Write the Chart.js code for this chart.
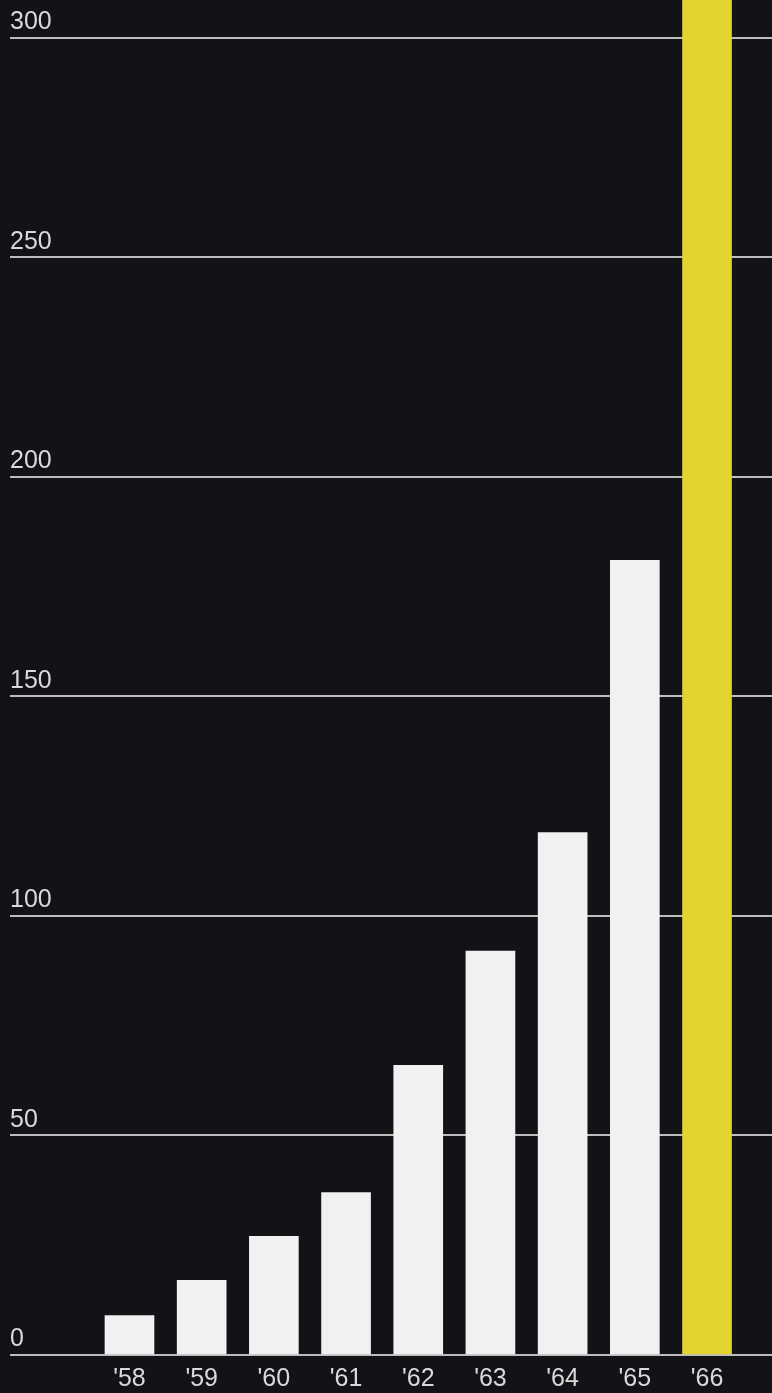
<!DOCTYPE html>
<html lang="en">
<head>
    <meta charset="UTF-8">
    <title>Growth 1958-1966</title>
    <style>
        html, body {
            margin: 0;
            padding: 0;
            background-color: #121317;
        }
        #chart-wrap {
            width: 772px;
            height: 1393px;
        }
    </style>
    <script src="https://cdn.jsdelivr.net/npm/chart.js"></script>
</head>
<body>
    <div id="chart-wrap">
        <canvas id="growth-chart"></canvas>
    </div>
    <script>
        const years = ["'58", "'59", "'60", "'61", "'62", "'63", "'64", "'65", "'66"];
        const values = [9, 17, 27, 37, 66, 92, 119, 181, 320];
        const yTicks = [0, 50, 100, 150, 200, 250, 300];

        const barColors = years.map((y, i) => i === years.length - 1 ? '#e4d42f' : '#f1f1f1');

        const drawChart = () => {
            const ctx = document.getElementById('growth-chart').getContext('2d');
            new Chart(ctx, {
                type: 'bar',
                data: {
                    datasets: [{
                        data: values.map((v, i) => ({ x: i, y: v })),
                        backgroundColor: barColors,
                        borderWidth: 0,
                        barThickness: 49
                    }]
                },
                options: {
                    responsive: true,
                    maintainAspectRatio: false,
                    animation: false,
                    // negative bottom padding lets the year labels sit lower under the baseline
                    layout: { padding: { left: 10, right: 0, top: 0, bottom: -10 } },
                    plugins: {
                        legend: { display: false },
                        tooltip: { enabled: false }
                    },
                    scales: {
                        x: {
                            type: 'linear',
                            offset: false,
                            min: -1.655,
                            max: 8.9,
                            afterBuildTicks: axis => {
                                axis.ticks = years.map((y, i) => ({ value: i }));
                            },
                            grid: { display: false, drawTicks: false },
                            border: { display: false },
                            ticks: {
                                padding: 15,
                                color: '#d9d9d9',
                                font: { family: 'Liberation Sans, Arial, sans-serif', size: 25, lineHeight: 0.72 },
                                maxRotation: 0,
                                autoSkip: false,
                                callback: v => years[v]
                            }
                        },
                        y: {
                            min: 0,
                            max: 308.6,
                            afterBuildTicks: axis => {
                                axis.ticks = yTicks.map(v => ({ value: v }));
                            },
                            grid: { color: '#bdbdbd', lineWidth: 2, drawTicks: false },
                            border: { display: false },
                            ticks: {
                                mirror: true,
                                align: 'start',
                                padding: 0,
                                labelOffset: -28,
                                color: '#d9d9d9',
                                font: { family: 'Liberation Sans, Arial, sans-serif', size: 25 }
                            }
                        }
                    }
                }
            });
        };

        document.addEventListener('DOMContentLoaded', drawChart);
    </script>
</body>
</html>
